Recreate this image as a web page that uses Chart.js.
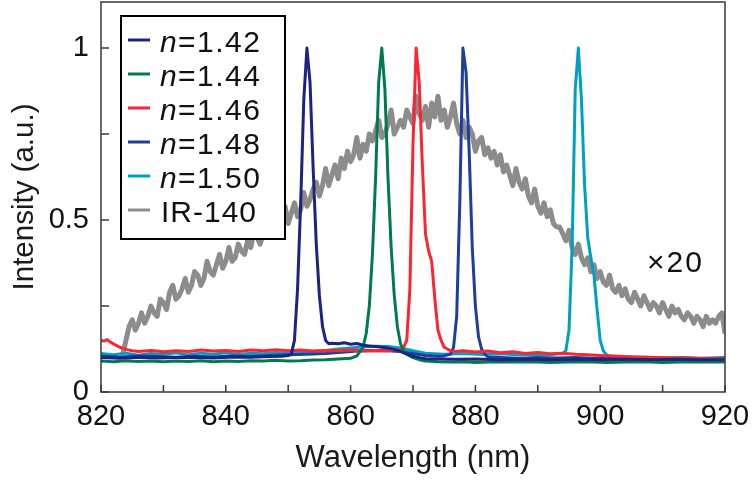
<!DOCTYPE html>
<html><head><meta charset="utf-8">
<script src="https://cdn.jsdelivr.net/npm/chart.js@4.4.0/dist/chart.umd.min.js"></script>
<style>html,body{margin:0;padding:0;background:#fff;}#wrap{width:752px;height:481px;}</style>
</head><body><div id="wrap"><canvas id="c" width="752" height="481"></canvas></div>
<script>
// ---- tick values / labels ----
const xTicks = [820, 830, 840, 850, 860, 870, 880, 890, 900, 910, 920];
const xTickLabels = [820, 840, 860, 880, 900, 920];
const yTicks = [0, 0.25, 0.5, 0.75, 1];
const yTickLabels = {0: '0', 0.5: '0.5', 1: '1'};

// ---- series names ----
const seriesNames = ['1.42', '1.44', '1.46', '1.48', '1.50', 'IR-140'];

// ---- n = 1.42 ----
const wl142 = [820,823,826,829,832,835,838,841,844,847,849,850,850.5,851,851.5,852,852.5,853,853.5,854,854.5,855,855.5,856,856.5,857,858,859,860,861,862,863,864,865,866,867,868,869,870,871,872,874,877,880,884,888,892,896,900,904,908,912,916,920];
const int142 = [0.100,0.098,0.101,0.099,0.100,0.101,0.099,0.102,0.101,0.103,0.104,0.106,0.11,0.15,0.3,0.55,0.85,1.0,0.9,0.65,0.43,0.28,0.19,0.15,0.14,0.142,0.14,0.143,0.139,0.141,0.136,0.134,0.132,0.13,0.128,0.124,0.118,0.11,0.104,0.1,0.097,0.096,0.095,0.096,0.094,0.095,0.094,0.095,0.094,0.095,0.094,0.095,0.094,0.094];

// ---- n = 1.44 ----
const wl144 = [820,822,824,826,828,830,832,834,836,838,840,842,844,846,848,850,852,854,856,858,860,861,862,862.5,863,863.5,864,864.5,865,865.5,866,866.5,867,867.5,868,868.5,869,870,871,872,874,876,878,880,883,886,889,892,895,898,901,904,907,910,913,916,920];
const int144 = [0.09,0.088,0.091,0.089,0.09,0.088,0.09,0.089,0.091,0.088,0.09,0.089,0.091,0.09,0.092,0.09,0.091,0.093,0.094,0.096,0.098,0.105,0.13,0.17,0.25,0.4,0.62,0.9,1.0,0.88,0.62,0.42,0.28,0.19,0.14,0.12,0.11,0.1,0.094,0.09,0.088,0.087,0.088,0.086,0.088,0.087,0.088,0.086,0.087,0.088,0.086,0.087,0.088,0.086,0.087,0.088,0.087];

// ---- n = 1.46 ----
const wl146 = [820,820.5,821,821.5,822,823,824,825,826,828,830,832,834,836,838,840,842,844,846,848,850,852,854,856,858,860,862,864,866,867,868,868.5,869,869.5,870,870.5,871,871.5,872,872.5,873,873.5,874,874.5,875,876,877,878,880,882,884,886,888,890,892,894,896,898,900,903,906,909,912,915,918,920];
const int146 = [0.15,0.148,0.152,0.145,0.14,0.13,0.124,0.12,0.118,0.121,0.117,0.12,0.118,0.122,0.119,0.121,0.118,0.122,0.12,0.123,0.12,0.122,0.119,0.121,0.12,0.122,0.119,0.121,0.12,0.123,0.122,0.13,0.15,0.3,0.72,1.0,0.9,0.66,0.46,0.41,0.38,0.27,0.18,0.15,0.13,0.12,0.118,0.12,0.116,0.119,0.114,0.117,0.112,0.115,0.111,0.113,0.11,0.108,0.106,0.104,0.102,0.1,0.099,0.098,0.097,0.096];

// ---- n = 1.48 ----
const wl148 = [820,823,826,829,832,835,838,841,844,847,850,853,856,858,860,862,864,866,868,870,872,874,875,876,876.5,877,877.5,878,878.5,879,879.5,880,880.5,881,881.5,882,884,887,890,893,896,899,902,905,908,911,914,917,920];
const int148 = [0.104,0.102,0.105,0.103,0.101,0.104,0.102,0.105,0.103,0.106,0.108,0.11,0.112,0.115,0.118,0.12,0.121,0.12,0.118,0.112,0.106,0.104,0.105,0.11,0.13,0.22,0.55,1.0,0.93,0.7,0.42,0.25,0.16,0.125,0.11,0.102,0.1,0.098,0.1,0.099,0.1,0.098,0.099,0.097,0.098,0.097,0.098,0.097,0.098];

// ---- n = 1.50 ----
const wl150 = [820,822,824,826,828,830,832,834,836,838,840,842,844,846,848,850,852,854,856,858,860,862,864,866,868,870,872,875,878,881,884,887,890,892,894,894.5,895,895.5,896,896.5,897,897.5,898,898.5,899,899.5,900,900.5,901,902,904,907,910,913,916,920];
const int150 = [0.112,0.108,0.113,0.107,0.112,0.109,0.114,0.108,0.113,0.11,0.114,0.109,0.113,0.111,0.115,0.112,0.116,0.118,0.121,0.125,0.128,0.131,0.133,0.132,0.128,0.12,0.113,0.11,0.112,0.109,0.111,0.108,0.11,0.109,0.112,0.12,0.18,0.42,0.88,1.0,0.85,0.6,0.45,0.39,0.34,0.24,0.15,0.12,0.108,0.103,0.1,0.101,0.099,0.1,0.098,0.1];

// ---- IR-140 (x20), sampled every 0.5 nm from 823.5 nm ----
const irStart = 823.5, irStep = 0.5;
const intIR = [
0.11,0.15,0.19,0.21,0.18,0.2,0.23,0.2,0.22,0.25,
0.23,0.22,0.27,0.26,0.24,0.29,0.31,0.27,0.28,0.3,
0.33,0.29,0.31,0.35,0.34,0.31,0.33,0.38,0.35,0.34,
0.37,0.4,0.36,0.38,0.42,0.38,0.39,0.43,0.41,0.4,
0.44,0.42,0.47,0.45,0.43,0.46,0.49,0.45,0.48,0.5,
0.48,0.51,0.54,0.49,0.52,0.55,0.51,0.53,0.58,0.54,
0.56,0.59,0.61,0.57,0.6,0.65,0.6,0.63,0.66,0.62,
0.68,0.65,0.7,0.67,0.69,0.74,0.68,0.72,0.7,0.75,
0.73,0.76,0.79,0.74,0.75,0.78,0.82,0.75,0.77,0.79,
0.77,0.82,0.8,0.78,0.86,0.81,0.79,0.83,0.77,0.84,
0.8,0.86,0.79,0.82,0.77,0.8,0.84,0.78,0.75,0.79,
0.74,0.77,0.75,0.7,0.73,0.74,0.69,0.71,0.68,0.7,
0.66,0.69,0.64,0.66,0.63,0.6,0.65,0.61,0.59,0.62,
0.57,0.55,0.59,0.54,0.52,0.55,0.51,0.53,0.49,0.48,
0.48,0.46,0.44,0.47,0.42,0.4,0.43,0.39,0.37,0.39,
0.35,0.37,0.33,0.35,0.32,0.31,0.34,0.3,0.29,0.31,
0.28,0.3,0.27,0.26,0.29,0.27,0.25,0.28,0.26,0.24,
0.26,0.25,0.23,0.26,0.24,0.22,0.25,0.23,0.24,0.22,
0.21,0.23,0.22,0.2,0.22,0.21,0.19,0.22,0.2,0.21,
0.2,0.22,0.23,0.17];

const colors = ['rgb(28,36,128)','rgb(0,122,82)','rgb(250,38,52)','rgb(30,62,158)','rgb(0,160,196)','rgb(140,140,140)'];
const FONT = "'Liberation Sans', Arial, Helvetica, sans-serif";

const pts = (xs, ys) => xs.map((v, i) => ({x: v, y: ys[i]}));
const irPts = intIR.map((v, i) => ({x: irStart + i * irStep, y: v}));

const sets = [
  pts(wl142, int142), pts(wl144, int144), pts(wl146, int146),
  pts(wl148, int148), pts(wl150, int150), irPts
];

const datasets = sets.map((d, i) => ({
  label: seriesNames[i],
  data: d,
  borderColor: colors[i],
  borderWidth: i === 5 ? 5 : 3,
  pointRadius: 0,
  tension: 0,
  borderJoinStyle: 'round',
  order: i === 5 ? 10 : i
}));

const framePlugin = {
  id: 'frame',
  afterDatasetsDraw(chart) {
    const {ctx, chartArea: a, scales: {x, y}} = chart;
    ctx.save();
    ctx.strokeStyle = '#3a3a3a';
    ctx.lineWidth = 1.5;
    ctx.strokeRect(a.left, a.top, a.right - a.left, a.bottom - a.top);
    ctx.beginPath();
    xTicks.forEach(v => { const p = x.getPixelForValue(v); ctx.moveTo(p, a.bottom); ctx.lineTo(p, a.bottom - 7); });
    yTicks.forEach(v => { const p = y.getPixelForValue(v); ctx.moveTo(a.left, p); ctx.lineTo(a.left + 8, p); });
    ctx.stroke();

    // "x20" annotation for IR-140
    ctx.fillStyle = '#111';
    ctx.font = '30px ' + FONT;
    ctx.textAlign = 'left';
    ctx.textBaseline = 'alphabetic';
    try { ctx.letterSpacing = '2px'; } catch (e) {}
    ctx.fillText('\u00d720', x.getPixelForValue(907.5), y.getPixelForValue(0.35));

    // legend
    const L = 121, T = 16, W = 164, H = 223;
    ctx.letterSpacing = '0px';
    ctx.fillStyle = '#fff';
    ctx.fillRect(L, T, W, H);
    ctx.strokeStyle = '#000';
    ctx.lineWidth = 2;
    ctx.strokeRect(L, T, W, H);
    seriesNames.forEach((name, i) => {
      const base = 52 + i * 34;
      ctx.strokeStyle = colors[i];
      ctx.lineWidth = 3;
      ctx.beginPath();
      ctx.moveTo(128, base - 12);
      ctx.lineTo(150, base - 12);
      ctx.stroke();
      ctx.fillStyle = '#111';
      if (i < 5) {
        ctx.font = 'italic 30px ' + FONT;
        ctx.letterSpacing = '0px';
        ctx.fillText('n', 160, base);
        ctx.font = '30px ' + FONT;
        ctx.fillText('=', 178, base);
        ctx.letterSpacing = '1.5px';
        ctx.fillText(name, 197, base);
      } else {
        ctx.font = '30px ' + FONT;
        ctx.letterSpacing = '1px';
        ctx.fillText(name, 161, base);
      }
    });
    ctx.restore();
  }
};

new Chart(document.getElementById('c'), {
  type: 'line',
  data: {datasets},
  plugins: [framePlugin],
  options: {
    responsive: false,
    animation: false,
    events: [],
    layout: {padding: {top: 2, right: 27, left: 0, bottom: 0}},
    plugins: {legend: {display: false}, tooltip: {enabled: false}},
    scales: {
      x: {
        type: 'linear', min: 820, max: 920,
        afterFit(s) { s.height = 89; s.paddingLeft = 0; s.paddingRight = 0; },
        afterBuildTicks(s) { s.ticks = xTicks.map(v => ({value: v})); },
        grid: {display: false, drawTicks: false},
        border: {display: false},
        ticks: {
          autoSkip: false, maxRotation: 0, minRotation: 0, padding: 8,
          color: '#111', font: {family: FONT, size: 29},
          callback: v => xTickLabels.includes(v) ? String(v) : ''
        },
        title: {display: true, text: 'Wavelength (nm)', color: '#1a1a1a',
          font: {family: FONT, size: 31}, padding: {top: 0, bottom: 4}}
      },
      y: {
        type: 'linear', min: 0, max: 1.134,
        afterFit(s) { s.width = 101; s.paddingTop = 0; s.paddingBottom = 0; },
        afterBuildTicks(s) { s.ticks = yTicks.map(v => ({value: v})); },
        grid: {display: false, drawTicks: false},
        border: {display: false},
        ticks: {
          padding: 12, color: '#111', font: {family: FONT, size: 29},
          callback: v => (yTickLabels[v] !== undefined ? yTickLabels[v] : '')
        },
        title: {display: true, text: 'Intensity (a.u.)', color: '#1a1a1a',
          font: {family: FONT, size: 29.5}, padding: {top: 7, bottom: 0}}
      }
    }
  }
});
</script>
</body></html>
